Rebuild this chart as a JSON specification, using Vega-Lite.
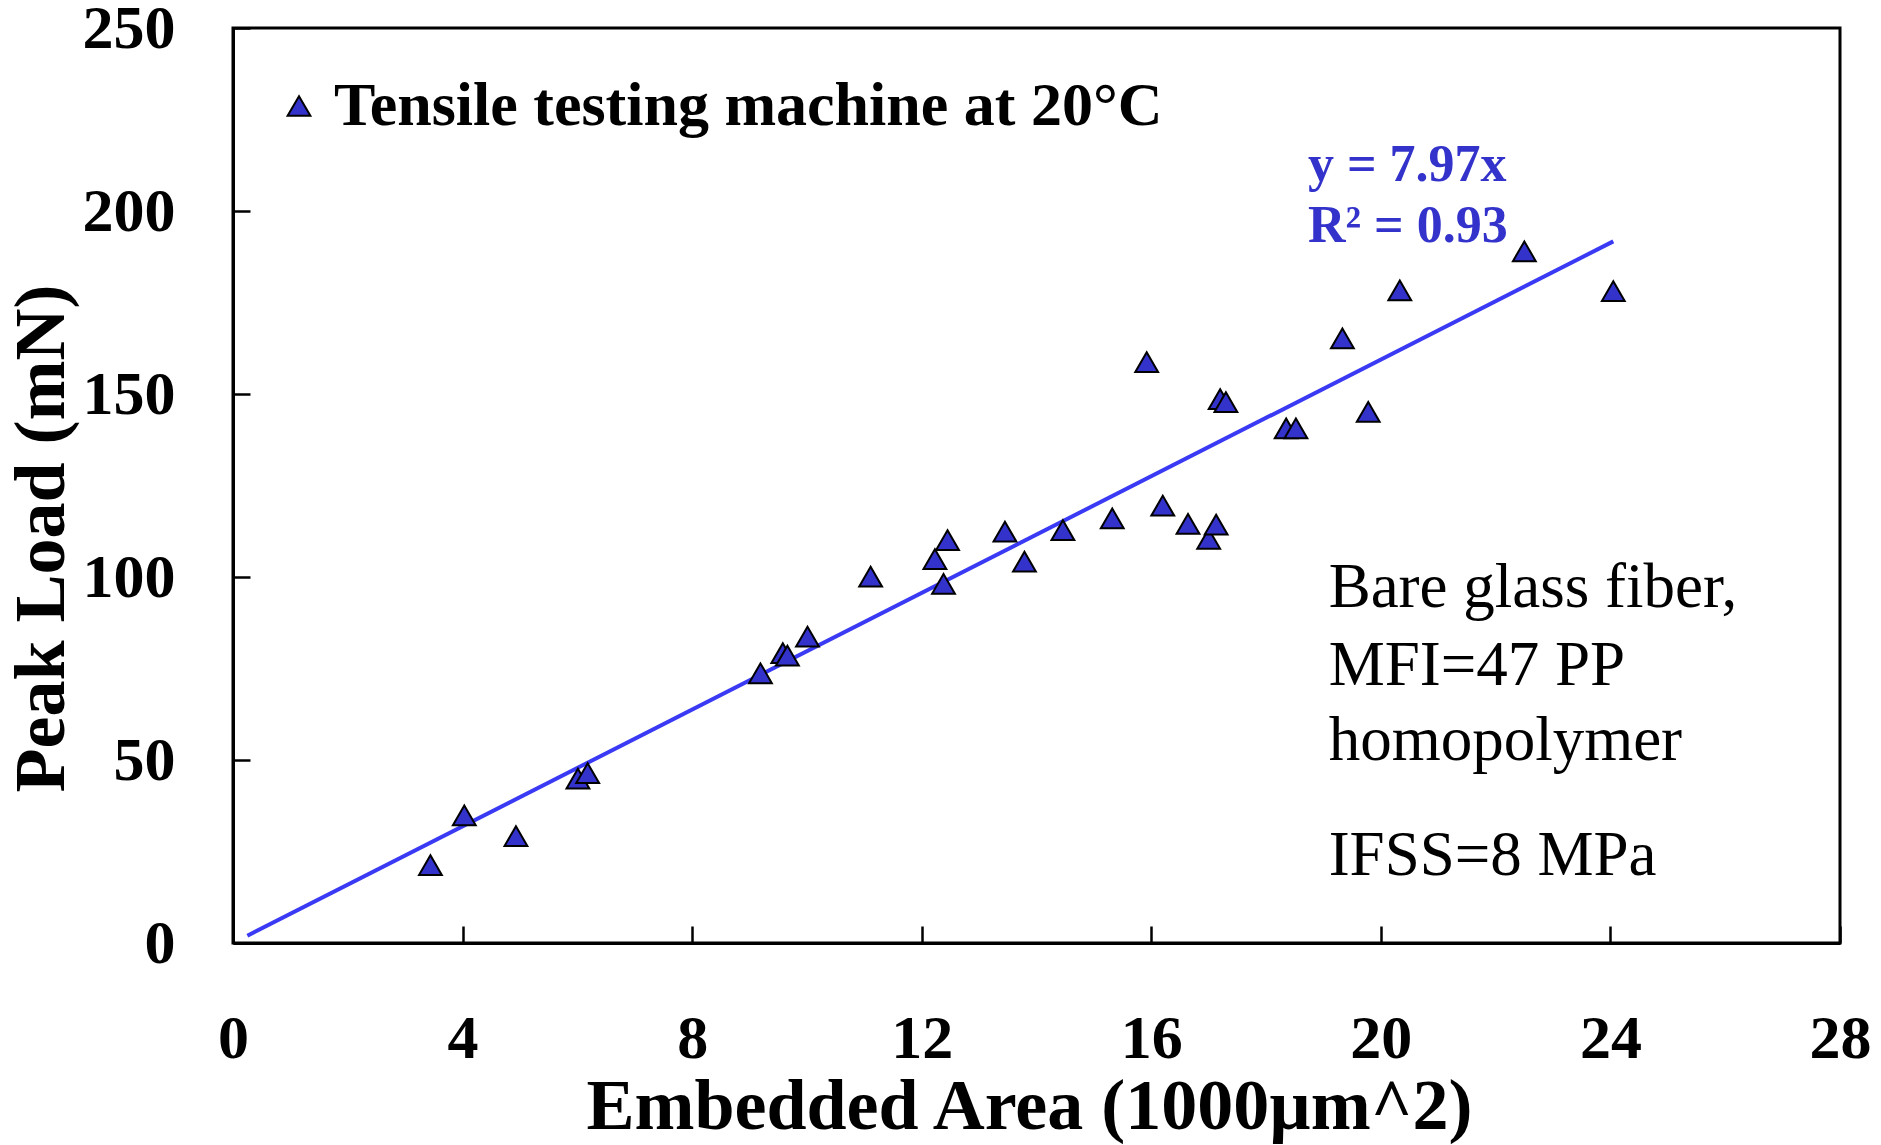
{
  "$schema": "https://vega.github.io/schema/vega-lite/v6.json",
  "width": 1607,
  "height": 915,
  "autosize": "none",
  "padding": {"left": 233, "top": 28, "right": 41, "bottom": 202},
  "background": "white",
  "config": {
    "view": {"stroke": "black", "strokeWidth": 3},
    "font": "Liberation Serif"
  },
  "encoding": {
    "x": {
      "field": "x", "type": "quantitative",
      "scale": {"domain": [0, 28], "nice": false, "zero": false},
      "axis": {
        "values": [0, 4, 8, 12, 16, 20, 24, 28], "format": "d", "grid": false,
        "domainColor": "black", "domainWidth": 3,
        "ticks": true, "tickColor": "black", "tickWidth": 2.5, "tickSize": -17, "tickOpacity": 1,
        "labelFont": "Liberation Serif", "labelFontSize": 62, "labelFontWeight": "bold", "labelColor": "black",
        "labelBaseline": "alphabetic", "labelPadding": 131, "labelFlush": false, "labelOverlap": false,
        "title": "Embedded Area (1000µm^2)", "titleFont": "Liberation Serif", "titleFontSize": 72, "titleFontWeight": "bold",
        "titleColor": "black", "titleX": 796, "titleY": 185, "titleBaseline": "alphabetic", "titleAlign": "center",
        "zindex": 2
      }
    },
    "y": {
      "field": "y", "type": "quantitative",
      "scale": {"domain": [0, 250], "nice": false, "zero": false},
      "axis": {
        "values": [0, 50, 100, 150, 200, 250], "format": "d", "grid": false,
        "domainColor": "black", "domainWidth": 3,
        "ticks": true, "tickColor": "black", "tickWidth": 2.5, "tickSize": -17, "tickOpacity": 1,
        "labelFont": "Liberation Serif", "labelFontSize": 62, "labelFontWeight": "bold", "labelColor": "black",
        "labelBaseline": "middle", "labelPadding": 75, "labelFlush": false, "labelOverlap": false,
        "title": "Peak Load (mN)", "titleFont": "Liberation Serif", "titleFontSize": 72, "titleFontWeight": "bold",
        "titleColor": "black", "titleX": -170, "titleY": 510, "titleAngle": 270, "titleBaseline": "alphabetic", "titleAlign": "center",
        "zindex": 2
      }
    }
  },
  "layer": [
    {
      "data": {"values": [{"x": 0.25, "y": 1.99}, {"x": 24.05, "y": 191.7}]},
      "mark": {"type": "line", "color": "#3a3af5", "strokeWidth": 4}
    },
    {
      "data": {"values": [
        {"x": 3.44, "y": 21.3, "series": "Tensile testing machine at 20°C"},
        {"x": 4.03, "y": 34.9, "series": "Tensile testing machine at 20°C"},
        {"x": 4.93, "y": 29.2, "series": "Tensile testing machine at 20°C"},
        {"x": 6.01, "y": 44.9, "series": "Tensile testing machine at 20°C"},
        {"x": 6.18, "y": 46.4, "series": "Tensile testing machine at 20°C"},
        {"x": 9.19, "y": 73.7, "series": "Tensile testing machine at 20°C"},
        {"x": 9.58, "y": 79.2, "series": "Tensile testing machine at 20°C"},
        {"x": 9.66, "y": 78.5, "series": "Tensile testing machine at 20°C"},
        {"x": 10.01, "y": 83.7, "series": "Tensile testing machine at 20°C"},
        {"x": 11.11, "y": 100.1, "series": "Tensile testing machine at 20°C"},
        {"x": 12.23, "y": 104.9, "series": "Tensile testing machine at 20°C"},
        {"x": 12.38, "y": 98.1, "series": "Tensile testing machine at 20°C"},
        {"x": 12.45, "y": 110.1, "series": "Tensile testing machine at 20°C"},
        {"x": 13.45, "y": 112.4, "series": "Tensile testing machine at 20°C"},
        {"x": 13.79, "y": 104.2, "series": "Tensile testing machine at 20°C"},
        {"x": 14.46, "y": 112.8, "series": "Tensile testing machine at 20°C"},
        {"x": 15.32, "y": 116.0, "series": "Tensile testing machine at 20°C"},
        {"x": 15.92, "y": 158.7, "series": "Tensile testing machine at 20°C"},
        {"x": 16.2, "y": 119.5, "series": "Tensile testing machine at 20°C"},
        {"x": 16.64, "y": 114.5, "series": "Tensile testing machine at 20°C"},
        {"x": 17.0, "y": 110.4, "series": "Tensile testing machine at 20°C"},
        {"x": 17.13, "y": 114.3, "series": "Tensile testing machine at 20°C"},
        {"x": 17.2, "y": 148.6, "series": "Tensile testing machine at 20°C"},
        {"x": 17.3, "y": 147.8, "series": "Tensile testing machine at 20°C"},
        {"x": 18.35, "y": 140.6, "series": "Tensile testing machine at 20°C"},
        {"x": 18.52, "y": 140.6, "series": "Tensile testing machine at 20°C"},
        {"x": 19.33, "y": 165.2, "series": "Tensile testing machine at 20°C"},
        {"x": 19.78, "y": 145.1, "series": "Tensile testing machine at 20°C"},
        {"x": 20.33, "y": 178.3, "series": "Tensile testing machine at 20°C"},
        {"x": 22.5, "y": 189.0, "series": "Tensile testing machine at 20°C"},
        {"x": 24.05, "y": 178.1, "series": "Tensile testing machine at 20°C"}
      ]},
      "mark": {"type": "point", "shape": "triangle-up", "filled": true, "size": 520, "stroke": "black", "strokeWidth": 2, "opacity": 1},
      "encoding": {
        "color": {
          "field": "series", "type": "nominal",
          "scale": {"range": ["#3333cc"]},
          "legend": {
            "orient": "none", "legendX": 35, "legendY": 47, "title": null, "padding": 0,
            "symbolType": "triangle-up", "symbolSize": 520, "symbolStrokeColor": "black", "symbolStrokeWidth": 2,
            "symbolFillColor": "#3333cc", "symbolOpacity": 1,
            "labelFont": "Liberation Serif", "labelFontSize": 62, "labelFontWeight": "bold", "labelColor": "black",
            "labelOffset": 4, "labelLimit": 2000
          }
        }
      }
    },
    {
      "data": {"values": [
        {"x": 18.73, "y": 208.2, "label": "y = 7.97x"},
        {"x": 18.73, "y": 191.6, "label": "R² = 0.93"}
      ]},
      "mark": {"type": "text", "align": "left", "baseline": "alphabetic", "font": "Liberation Serif", "fontSize": 52, "fontWeight": "bold", "color": "#3333cc"},
      "encoding": {"text": {"field": "label"}}
    },
    {
      "data": {"values": [
        {"x": 19.09, "y": 91.8, "label": "Bare glass fiber,"},
        {"x": 19.09, "y": 70.5, "label": "MFI=47 PP"},
        {"x": 19.09, "y": 50.0, "label": "homopolymer"},
        {"x": 19.09, "y": 18.6, "label": "IFSS=8 MPa"}
      ]},
      "mark": {"type": "text", "align": "left", "baseline": "alphabetic", "font": "Liberation Serif", "fontSize": 63, "color": "black"},
      "encoding": {"text": {"field": "label"}}
    }
  ]
}
